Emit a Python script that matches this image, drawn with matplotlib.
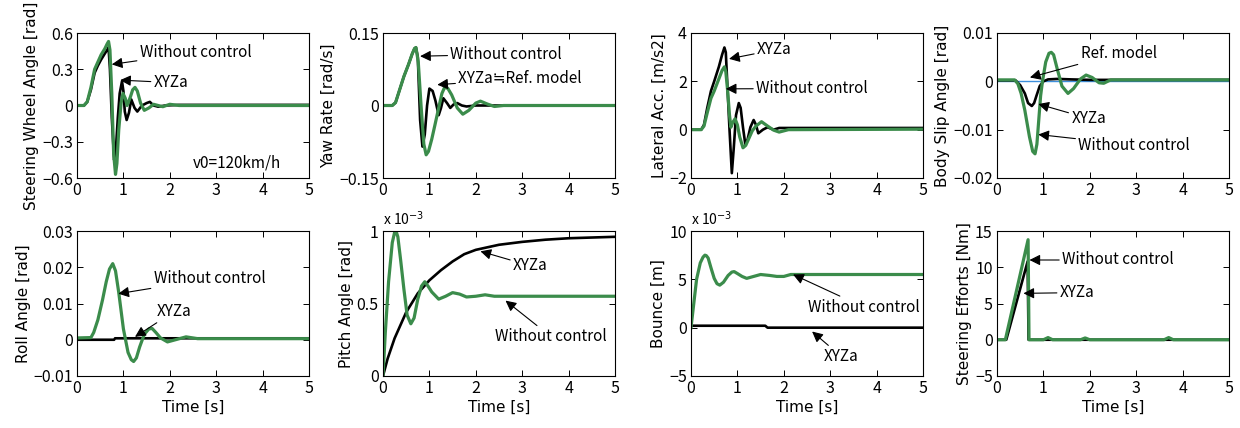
import numpy as np
import matplotlib
matplotlib.use("Agg")
import matplotlib.pyplot as plt

plt.rcParams['font.family'] = ['Noto Sans CJK JP', 'DejaVu Sans']
plt.rcParams['font.size'] = 10

GREEN = '#3b8c4b'
BLUE = '#3d8fdc'

# ---- data (time [s], value) ----
# steering wheel angle [rad]
swa_wo_t = [0, 0.15, 0.22, 0.3, 0.38, 0.45, 0.52, 0.6, 0.65, 0.68, 0.71, 0.75, 0.79, 0.83, 0.86, 0.9, 0.95, 0.99, 1.04, 1.08, 1.15, 1.2, 1.25, 1.3, 1.37, 1.45, 1.55, 1.65, 1.75, 1.85, 2.0, 2.2, 5]
swa_wo_v = [0, 0.0, 0.03, 0.15, 0.3, 0.36, 0.42, 0.47, 0.51, 0.53, 0.46, 0.1, -0.4, -0.57, -0.48, -0.2, 0.02, 0.1, 0.06, 0.0, 0.07, 0.13, 0.15, 0.12, 0.02, -0.04, -0.02, 0.01, 0.0, -0.01, 0.01, 0.0, 0.0]
swa_x_t = [0, 0.15, 0.22, 0.3, 0.38, 0.45, 0.52, 0.6, 0.65, 0.68, 0.71, 0.75, 0.8, 0.84, 0.88, 0.92, 0.97, 1.0, 1.03, 1.07, 1.12, 1.17, 1.24, 1.3, 1.4, 1.5, 1.57, 1.65, 1.75, 1.9, 2.2, 5]
swa_x_v = [0, 0.0, 0.03, 0.13, 0.27, 0.33, 0.38, 0.43, 0.46, 0.48, 0.3, -0.1, -0.45, -0.35, -0.1, 0.1, 0.2, 0.12, -0.05, -0.12, -0.06, 0.05, -0.02, -0.05, 0.0, 0.02, 0.03, 0.0, -0.01, 0.0, 0.005, 0.005]

# yaw rate [rad/s]
yaw_wo_t = [0, 0.2, 0.27, 0.35, 0.45, 0.55, 0.63, 0.68, 0.71, 0.76, 0.82, 0.88, 0.93, 0.98, 1.05, 1.12, 1.2, 1.27, 1.33, 1.4, 1.48, 1.6, 1.72, 1.85, 2.0, 2.1, 2.25, 2.4, 2.6, 5]
yaw_wo_v = [0, 0.0, 0.006, 0.03, 0.06, 0.085, 0.107, 0.118, 0.12, 0.09, 0.0, -0.08, -0.102, -0.095, -0.07, -0.04, -0.005, 0.025, 0.038, 0.035, 0.022, -0.005, -0.018, -0.01, 0.005, 0.009, 0.003, -0.002, 0.0, 0.0]
yaw_x_t = [0, 0.2, 0.27, 0.35, 0.45, 0.55, 0.63, 0.68, 0.71, 0.75, 0.8, 0.85, 0.9, 0.95, 1.0, 1.07, 1.13, 1.2, 1.25, 1.3, 1.38, 1.45, 1.52, 1.6, 1.7, 1.8, 2.0, 5]
yaw_x_v = [0, 0.0, 0.006, 0.03, 0.06, 0.085, 0.107, 0.118, 0.12, 0.1, -0.03, -0.085, -0.06, 0.0, 0.035, 0.03, 0.01, -0.02, -0.005, 0.015, 0.005, -0.005, 0.002, 0.005, 0.0, -0.002, 0.0, 0.0]

# lateral acceleration [m/s2]
lat_x_t = [0, 0.22, 0.28, 0.35, 0.43, 0.5, 0.6, 0.67, 0.72, 0.75, 0.78, 0.83, 0.88, 0.92, 0.97, 1.03, 1.07, 1.12, 1.17, 1.22, 1.28, 1.35, 1.4, 1.45, 1.55, 1.65, 1.78, 1.9, 5]
lat_x_v = [0, 0.0, 0.2, 0.9, 1.6, 2.0, 2.6, 3.1, 3.4, 3.2, 2.0, 0.0, -1.8, -0.8, 0.6, 1.1, 0.9, 0.1, -0.6, -0.4, 0.1, 0.4, 0.2, -0.15, 0.0, 0.1, 0.0, 0.07, 0.07]
lat_wo_t = [0, 0.22, 0.28, 0.35, 0.43, 0.5, 0.6, 0.67, 0.72, 0.75, 0.79, 0.83, 0.86, 0.9, 0.95, 1.0, 1.05, 1.12, 1.18, 1.25, 1.32, 1.4, 1.52, 1.65, 1.78, 1.9, 2.1, 5]
lat_wo_v = [0, 0.0, 0.15, 0.7, 1.3, 1.6, 2.1, 2.45, 2.6, 2.4, 1.6, 0.6, 0.1, 0.3, 0.45, 0.2, -0.3, -0.75, -0.65, -0.35, -0.05, 0.15, 0.33, 0.15, -0.02, -0.1, 0.0, 0.02]

# body slip angle [rad]
bsa_wo_t = [0, 0.38, 0.45, 0.52, 0.6, 0.7, 0.77, 0.82, 0.86, 0.9, 0.94, 0.98, 1.05, 1.12, 1.17, 1.22, 1.3, 1.4, 1.53, 1.65, 1.8, 1.92, 2.05, 2.2, 2.3, 2.45, 5]
bsa_wo_v = [0.0003, 0.0003, -0.0005, -0.0025, -0.006, -0.0115, -0.0145, -0.015, -0.013, -0.008, -0.003, 0.0, 0.004, 0.0058, 0.006, 0.0055, 0.0025, -0.001, -0.0025, -0.0015, 0.0005, 0.0013, 0.0008, -0.0003, -0.0004, 0.0003, 0.0003]
bsa_x_t = [0, 0.4, 0.5, 0.6, 0.67, 0.75, 0.8, 0.85, 0.92, 1.0, 1.1, 1.3, 1.6, 2.0, 5]
bsa_x_v = [0.0002, 0.0002, -0.0008, -0.0025, -0.0045, -0.0051, -0.0045, -0.003, -0.001, 0.0, 0.0004, 0.0005, 0.0004, 0.0003, 0.0003]
bsa_ref_t = [0, 5]
bsa_ref_v = [0, 0]

# roll angle [rad]
roll_wo_t = [0, 0.3, 0.36, 0.45, 0.55, 0.63, 0.7, 0.77, 0.83, 0.9, 1.0, 1.1, 1.17, 1.22, 1.28, 1.35, 1.45, 1.55, 1.62, 1.7, 1.8, 1.95, 2.15, 2.35, 2.6, 5]
roll_wo_v = [0.0005, 0.0006, 0.002, 0.0055, 0.011, 0.016, 0.0195, 0.021, 0.019, 0.013, 0.003, -0.0035, -0.0055, -0.006, -0.005, -0.002, 0.0015, 0.003, 0.0031, 0.002, 0.0005, -0.0006, 0.0001, 0.0008, 0.0003, 0.0003]
roll_x_t = [0, 0.8, 0.82, 5]
roll_x_v = [0.0, 0.0, 0.0004, 0.0004]

# pitch angle [x1e-3 rad]
pitch_wo_t = [0, 0.05, 0.12, 0.2, 0.25, 0.28, 0.32, 0.38, 0.45, 0.52, 0.6, 0.67, 0.75, 0.83, 0.9, 0.97, 1.05, 1.2, 1.35, 1.5, 1.65, 1.8, 2.0, 2.2, 2.4, 5]
pitch_wo_v = [0, 0.3, 0.65, 0.92, 0.99, 1.0, 0.96, 0.8, 0.6, 0.42, 0.36, 0.4, 0.53, 0.62, 0.65, 0.62, 0.58, 0.53, 0.55, 0.575, 0.565, 0.545, 0.55, 0.56, 0.55, 0.55]
pitch_x_t = [0, 0.1, 0.25, 0.5, 0.75, 1.0, 1.25, 1.5, 1.75, 2.0, 2.5, 3.0, 3.5, 4.0, 4.5, 5.0]
pitch_x_v = [0, 0.12, 0.26, 0.44, 0.57, 0.66, 0.73, 0.79, 0.84, 0.87, 0.905, 0.925, 0.94, 0.95, 0.955, 0.96]

# bounce [x1e-3 m]
bnc_wo_t = [0, 0.06, 0.12, 0.2, 0.26, 0.3, 0.33, 0.37, 0.43, 0.5, 0.56, 0.62, 0.7, 0.8, 0.88, 0.93, 1.0, 1.1, 1.2, 1.35, 1.5, 1.7, 1.85, 2.0, 2.15, 5]
bnc_wo_v = [0, 2.5, 5.0, 6.7, 7.3, 7.5, 7.45, 7.2, 6.2, 5.1, 4.55, 4.4, 4.7, 5.4, 5.75, 5.8, 5.6, 5.3, 5.1, 5.3, 5.5, 5.4, 5.3, 5.3, 5.5, 5.5]
bnc_x_t = [0, 1.6, 1.65, 5]
bnc_x_v = [0.2, 0.2, 0.0, 0.0]

# steering efforts [Nm]
se_wo_t = [0, 0.18, 0.67, 0.69, 1.0, 1.1, 1.2, 1.8, 1.9, 2.0, 3.6, 3.7, 3.8, 5]
se_wo_v = [0, 0, 13.8, 0, 0, 0.3, 0, 0, 0.25, 0, 0, 0.3, 0, 0]
se_x_t = [0, 0.2, 0.66, 0.68, 5]
se_x_v = [0, 0, 10.8, 0, 0]

ylabels = ['Steering Wheel Angle [rad]', 'Yaw Rate [rad/s]', 'Lateral Acc. [m/s2]', 'Body Slip Angle [rad]',
           'Roll Angle [rad]', 'Pitch Angle [rad]', 'Bounce [m]', 'Steering Efforts [Nm]']
ylims = [(-0.6, 0.6), (-0.15, 0.15), (-2, 4), (-0.02, 0.01),
         (-0.01, 0.03), (0, 1), (-5, 10), (-5, 15)]
yticks = [[-0.6, -0.3, 0, 0.3, 0.6], [-0.15, 0, 0.15], [-2, 0, 2, 4], [-0.02, -0.01, 0, 0.01],
          [-0.01, 0, 0.01, 0.02, 0.03], [0, 0.5, 1], [-5, 0, 5, 10], [-5, 0, 5, 10, 15]]
yticklabels = [['\u22120.6', '\u22120.3', '0', '0.3', '0.6'], ['\u22120.15', '0', '0.15'],
               ['\u22122', '0', '2', '4'], ['\u22120.02', '\u22120.01', '0', '0.01'],
               ['\u22120.01', '0', '0.01', '0.02', '0.03'], ['0', '0.5', '1'],
               ['\u22125', '0', '5', '10'], ['\u22125', '0', '5', '10', '15']]
xticks = [0, 1, 2, 3, 4, 5]

fig = plt.figure(figsize=(12.4, 4.28), dpi=100)
lefts = [77, 383, 691, 997]
axes = []
for r, top in enumerate([33, 231]):
    for c in range(4):
        ax = fig.add_axes([lefts[c] / 1240, 1 - (top + 145) / 428, 232 / 1240, 145 / 428])
        axes.append(ax)

series = [
    [(swa_x_t, swa_x_v, 'k'), (swa_wo_t, swa_wo_v, GREEN)],
    [(yaw_x_t, yaw_x_v, 'k'), (yaw_wo_t, yaw_wo_v, GREEN)],
    [(lat_x_t, lat_x_v, 'k'), (lat_wo_t, lat_wo_v, GREEN)],
    [(bsa_ref_t, bsa_ref_v, BLUE), (bsa_x_t, bsa_x_v, 'k'), (bsa_wo_t, bsa_wo_v, GREEN)],
    [(roll_x_t, roll_x_v, 'k'), (roll_wo_t, roll_wo_v, GREEN)],
    [(pitch_x_t, pitch_x_v, 'k'), (pitch_wo_t, pitch_wo_v, GREEN)],
    [(bnc_x_t, bnc_x_v, 'k'), (bnc_wo_t, bnc_wo_v, GREEN)],
    [(se_x_t, se_x_v, 'k'), (se_wo_t, se_wo_v, GREEN)],
]

lab_font = ['DejaVu Sans']
for i, ax in enumerate(axes):
    for t, v, col in series[i]:
        lw = 1.0 if col == BLUE else (2.3 if col == GREEN else 1.9)
        ax.plot(t, v, color=col, lw=lw)
    ax.set_xlim(0, 5)
    ax.set_ylim(*ylims[i])
    ax.set_xticks(xticks)
    ax.set_xticklabels([str(x) for x in xticks], fontsize=11.5)
    ax.set_yticks(yticks[i])
    ax.set_yticklabels(yticklabels[i], fontsize=11.5)
    ax.tick_params(direction='in', top=True, right=True, length=4, width=0.7, pad=3)
    ax.set_ylabel(ylabels[i], fontsize=11, family=lab_font, labelpad=2)
    for s in ax.spines.values():
        s.set_linewidth(0.8)
    if i >= 4:
        ax.set_xlabel('Time [s]', fontsize=11, family=lab_font, labelpad=2)
    if i in (5, 6):
        ax.text(0, 1.02, r'x 10$^{-3}$', transform=ax.transAxes, fontsize=10, va='bottom')

arr = dict(arrowstyle='-|>', color='k', lw=0.8, mutation_scale=16, shrinkA=0, shrinkB=0)
def note(ax, txt, xy, xytext):
    ax.annotate(txt, xy=xy, xytext=xytext, fontsize=11, va='center', ha='left',
                arrowprops=arr)

note(axes[0], 'Without control', (0.75, 0.34), (1.35, 0.44))
note(axes[0], 'XYZa', (0.93, 0.21), (1.65, 0.19))
axes[0].text(2.5, -0.48, 'v0=120km/h', fontsize=11, va='center')
note(axes[1], 'Without control', (0.8, 0.102), (1.45, 0.106))
note(axes[1], 'XYZa\u2252Ref. model', (1.17, 0.043), (1.62, 0.055))
note(axes[2], 'XYZa', (0.82, 2.93), (1.42, 3.3))
note(axes[2], 'Without control', (0.75, 1.69), (1.4, 1.7))
note(axes[3], 'Ref. model', (0.71, 0.0008), (1.8, 0.0058))
note(axes[3], 'XYZa', (0.89, -0.0047), (1.6, -0.0077))
note(axes[3], 'Without control', (0.89, -0.011), (1.75, -0.0132))
note(axes[4], 'Without control', (0.89, 0.0127), (1.65, 0.0168))
note(axes[4], 'XYZa', (1.25, 0.0008), (1.72, 0.0078))
note(axes[5], 'XYZa', (2.1, 0.86), (2.8, 0.76))
note(axes[5], 'Without control', (2.64, 0.52), (2.42, 0.27))
note(axes[6], 'Without control', (2.2, 5.5), (2.53, 2.1))
note(axes[6], 'XYZa', (2.61, -0.4), (2.87, -3.0))
note(axes[7], 'Without control', (0.7, 11.0), (1.4, 11.0))
note(axes[7], 'XYZa', (0.57, 6.4), (1.35, 6.5))

fig.savefig('out.png', dpi=100)
